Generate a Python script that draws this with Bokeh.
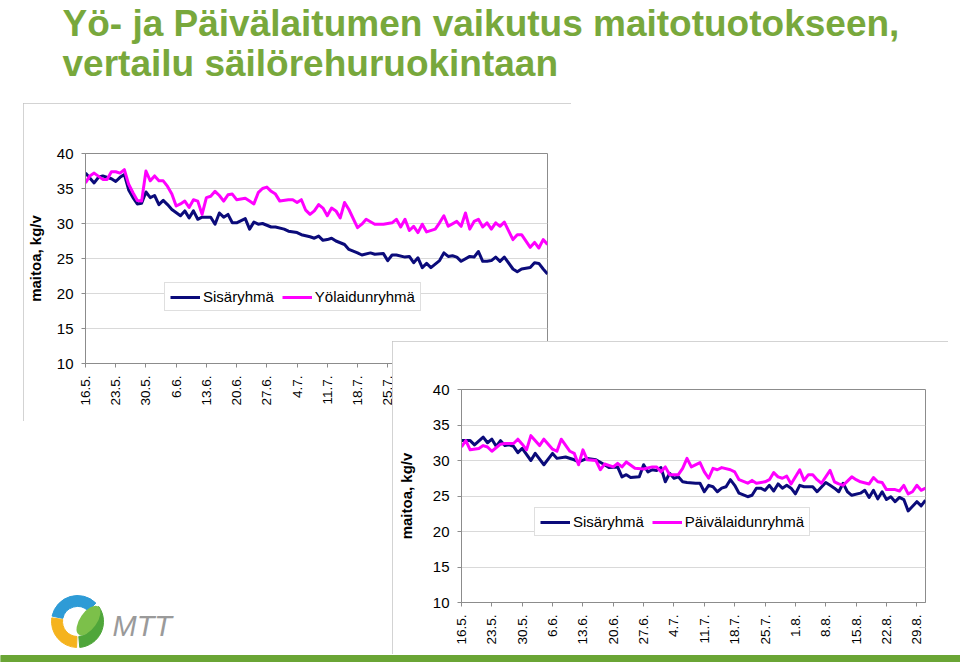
import math
from bokeh.plotting import figure
from bokeh.models import Range1d, FixedTicker, Legend, LegendItem
from bokeh.layouts import column
from bokeh.embed import file_html
from bokeh.resources import INLINE
from bokeh.core.properties import value

FONT = "Liberation Sans"

# ---------------- data ----------------
title_lines = ["Yö- ja Päivälaitumen vaikutus maitotuotokseen,",
               "vertailu säilörehuruokintaan"]
y_label = "maitoa, kg/v"
week_labels = ["16.5.", "23.5.", "30.5.", "6.6.", "13.6.", "20.6.", "27.6.", "4.7.",
               "11.7.", "18.7.", "25.7.", "1.8.", "8.8.", "15.8.", "22.8.", "29.8."]
y_ticks = [10, 15, 20, 25, 30, 35, 40]
series_names_top = ["Sisäryhmä", "Yölaidunryhmä"]
series_names_bottom = ["Sisäryhmä", "Päivälaidunryhmä"]
logo_text = "MTT"

# day index 0 = 16.5.
top_sisa_day = [0, 2, 3, 4, 6, 7, 8, 9, 10, 11, 12, 13, 14, 15, 16, 17, 18, 19, 20, 22,
                23, 24, 25, 26, 27, 29, 30, 31, 32, 33, 34, 35, 37, 38, 39, 40, 41, 43, 44, 46,
                47, 49, 50, 52, 53, 54, 55, 56, 57, 58, 60, 61, 63, 64, 66, 67, 69, 70, 71, 72,
                74, 75, 76, 77, 78, 79, 80, 81, 82, 83, 84, 85, 86, 87, 89, 90, 91, 92, 93, 94,
                95, 96, 97, 99, 100, 101, 103, 104, 105, 106, 107]
top_sisa = [37.2, 35.8, 36.6, 36.8, 36.4, 36.0, 36.6, 37.0, 34.8, 33.7,
            32.8, 32.9, 34.5, 33.7, 34.0, 32.7, 33.3, 32.7, 32.0, 31.1,
            31.8, 30.8, 31.8, 30.6, 30.9, 30.9, 29.9, 31.5, 30.9, 31.3,
            30.1, 30.1, 30.7, 29.2, 30.2, 29.9, 30.0, 29.5, 29.5, 29.2,
            28.9, 28.7, 28.4, 28.1, 27.9, 28.2, 27.6, 27.7, 27.9, 27.5,
            27.0, 26.3, 25.8, 25.5, 25.8, 25.6, 25.7, 24.7, 25.5, 25.5,
            25.2, 25.3, 24.4, 25.1, 23.7, 24.3, 23.7, 24.2, 24.7, 25.8,
            25.3, 25.4, 25.2, 24.6, 25.3, 25.2, 26.0, 24.6, 24.6, 24.7,
            25.2, 24.6, 25.2, 23.5, 23.1, 23.5, 23.7, 24.4, 24.3, 23.5,
            22.8]

top_yo_day = [0, 1, 2, 4, 5, 6, 7, 8, 9, 10, 11, 12, 13, 14, 15, 16, 17, 18, 19, 20,
              21, 22, 23, 24, 25, 26, 27, 28, 29, 30, 31, 32, 33, 34, 35, 37, 38, 39, 40, 41,
              42, 43, 44, 45, 47, 48, 49, 50, 51, 52, 53, 54, 55, 56, 57, 58, 59, 60, 61, 63,
              64, 65, 67, 69, 71, 72, 73, 74, 75, 76, 77, 78, 79, 81, 82, 83, 84, 86, 87, 88,
              89, 90, 91, 92, 93, 94, 95, 96, 97, 99, 100, 101, 103, 104, 105, 106, 107]
top_yo = [35.8, 36.8, 37.2, 36.3, 36.3, 37.4, 37.4, 37.2, 37.7, 35.6,
          34.4, 33.3, 33.2, 37.5, 36.1, 36.8, 36.1, 36.1, 35.3, 34.2,
          32.5, 32.8, 33.2, 32.3, 33.4, 33.2, 31.3, 33.7, 33.9, 34.6,
          34.0, 33.2, 34.1, 34.2, 33.4, 33.6, 33.2, 32.8, 34.4, 35.0,
          35.2, 34.6, 34.2, 33.2, 33.4, 33.4, 33.0, 33.4, 31.9, 31.3,
          31.8, 32.7, 32.2, 31.1, 32.2, 31.8, 30.8, 33.0, 32.0, 29.4,
          29.9, 30.6, 29.9, 29.9, 30.1, 30.6, 29.5, 30.6, 29.0, 29.6,
          28.7, 29.9, 28.8, 29.2, 30.1, 31.1, 29.6, 30.3, 29.6, 31.5,
          29.2, 30.3, 30.6, 29.5, 30.1, 29.2, 30.1, 29.6, 30.2, 27.7,
          28.4, 28.4, 26.6, 27.3, 26.5, 27.7, 27.0]

bot_sisa_day = [0, 2, 3, 5, 6, 7, 8, 9, 10, 11, 12, 13, 14, 16, 17, 19, 21, 22, 24, 26,
                27, 29, 31, 33, 34, 36, 37, 38, 39, 41, 42, 43, 44, 45, 46, 47, 48, 49, 50, 51,
                52, 54, 55, 56, 57, 58, 59, 60, 61, 62, 63, 64, 66, 67, 68, 69, 70, 71, 72, 73,
                74, 75, 76, 77, 78, 79, 81, 82, 84, 85, 86, 87, 88, 89, 90, 92, 93, 94, 95, 96,
                97, 98, 99, 100, 101, 102, 103, 105, 106, 107]
bot_sisa = [32.8, 32.8, 32.2, 33.3, 32.5, 33.0, 32.0, 32.8, 32.1, 32.2,
            32.0, 31.1, 31.7, 30.0, 31.0, 29.4, 31.0, 30.3, 30.5, 30.1,
            29.8, 30.3, 30.1, 29.4, 29.0, 29.1, 27.7, 28.0, 27.6, 27.7,
            29.4, 28.4, 28.7, 28.6, 29.0, 27.0, 28.2, 27.5, 27.7, 27.0,
            26.9, 26.8, 26.8, 25.6, 26.5, 26.3, 25.6, 26.1, 26.3, 27.3,
            26.5, 25.4, 24.9, 25.1, 26.1, 26.1, 25.8, 26.5, 25.7, 26.7,
            26.1, 26.5, 26.1, 25.3, 26.5, 26.3, 26.3, 25.6, 26.9, 26.5,
            26.1, 25.6, 26.8, 25.6, 25.1, 25.4, 25.8, 24.8, 25.8, 24.6,
            25.6, 24.5, 24.9, 24.2, 24.8, 24.5, 22.9, 24.2, 23.6, 24.4]

bot_paiva_day = [0, 1, 2, 4, 5, 6, 7, 9, 10, 12, 13, 14, 15, 16, 18, 19, 21, 22, 23, 25,
                 26, 27, 28, 29, 31, 32, 33, 35, 36, 37, 38, 40, 42, 44, 45, 46, 47, 48, 50, 51,
                 52, 53, 55, 56, 57, 58, 59, 60, 62, 63, 64, 66, 67, 68, 70, 71, 72, 73, 74, 75,
                 76, 78, 79, 80, 81, 82, 83, 85, 86, 87, 88, 90, 91, 92, 94, 95, 96, 97, 98, 100,
                 101, 102, 103, 104, 105, 106, 107]
bot_paiva = [31.9, 32.8, 31.5, 31.7, 32.1, 31.9, 31.3, 32.3, 32.4, 32.4,
             33.0, 32.3, 31.5, 33.5, 32.1, 33.0, 31.6, 31.3, 33.0, 31.3,
             31.0, 29.4, 31.5, 30.1, 30.0, 28.7, 29.5, 29.1, 29.6, 29.1,
             29.8, 28.9, 28.8, 29.1, 29.1, 28.4, 29.1, 28.0, 28.0, 28.9,
             30.3, 29.1, 29.7, 28.4, 27.5, 28.9, 28.7, 29.0, 28.7, 28.4,
             27.3, 26.8, 27.2, 26.8, 27.0, 27.3, 28.3, 27.7, 27.5, 27.8,
             26.7, 28.7, 27.2, 28.0, 28.0, 27.3, 26.8, 28.6, 27.0, 26.7,
             26.5, 27.7, 27.3, 27.0, 26.7, 27.6, 27.0, 26.9, 25.9, 25.9,
             25.7, 26.5, 25.3, 25.6, 26.5, 25.8, 26.1]

NAVY = "#0b0b7a"
MAGENTA = "#ff00ff"
GREEN = "#78a83c"


def chart(w, h, bl, br, bt, bb, d1, v1, d2, v2, names, leg_loc, ylab_standoff, margin):
    p = figure(width=w, height=h, x_range=Range1d(0, 107), y_range=Range1d(10, 40),
               output_backend="svg", toolbar_location=None,
               min_border_left=bl, min_border_right=br, min_border_top=bt, min_border_bottom=bb,
               margin=margin, frame_align=False,
               styles={"outline": "1px solid #c4c4c4", "outline-offset": "-1px"})
    p.background_fill_color = "white"
    p.border_fill_color = "white"
    p.outline_line_color = "#8c8c8c"
    p.xgrid.visible = False
    p.ygrid.grid_line_color = "#d9d9d9"
    p.ygrid.ticker = FixedTicker(ticks=y_ticks)

    r1 = p.line(d1, v1, line_color=NAVY, line_width=3, line_join="round")
    r2 = p.line(d2, v2, line_color=MAGENTA, line_width=3, line_join="round")

    xa = p.xaxis[0]
    xa.ticker = FixedTicker(ticks=[7 * i for i in range(len(week_labels))])
    xa.major_label_overrides = {7 * i: lab for i, lab in enumerate(week_labels)}
    xa.major_label_orientation = math.pi / 2
    xa.major_label_text_font = FONT
    xa.major_label_text_font_size = "13.5px"
    xa.major_label_text_color = "black"
    xa.major_label_standoff = 8
    xa.axis_line_color = "#8c8c8c"
    xa.major_tick_line_color = "#8c8c8c"
    xa.major_tick_out = 4
    xa.major_tick_in = 0
    xa.minor_tick_line_color = None

    ya = p.yaxis[0]
    ya.ticker = FixedTicker(ticks=y_ticks)
    ya.major_label_text_font = FONT
    ya.major_label_text_font_size = "15px"
    ya.major_label_text_color = "black"
    ya.major_label_standoff = 8
    ya.axis_line_color = "#8c8c8c"
    ya.major_tick_line_color = "#8c8c8c"
    ya.major_tick_out = 4
    ya.major_tick_in = 0
    ya.minor_tick_line_color = None
    ya.axis_label = y_label
    ya.axis_label_text_font = FONT
    ya.axis_label_text_font_size = "15px"
    ya.axis_label_text_font_style = "bold"
    ya.axis_label_text_color = "black"
    ya.axis_label_standoff = ylab_standoff

    legend = Legend(items=[LegendItem(label=names[0], renderers=[r1]),
                           LegendItem(label=names[1], renderers=[r2])],
                    location=leg_loc, orientation="horizontal",
                    padding=5, spacing=8, margin=0, glyph_width=30, glyph_height=16,
                    label_standoff=3, label_height=16,
                    label_text_font=FONT, label_text_font_size="15px",
                    label_text_color="black",
                    border_line_color="#c0c0c0", background_fill_color="white",
                    background_fill_alpha=1.0)
    p.add_layout(legend)
    return p


# ---------------- slide background (pixel space, y downwards) ----------------
bg = figure(width=960, height=662, x_range=Range1d(0, 960), y_range=Range1d(662, 0),
            output_backend="svg", toolbar_location=None, min_border=0,
            min_border_left=0, min_border_right=0, min_border_top=0, min_border_bottom=0,
            x_axis_location=None, y_axis_location=None, frame_align=False)
bg.outline_line_color = None
bg.background_fill_color = "white"
bg.border_fill_color = "white"
bg.xgrid.visible = False
bg.ygrid.visible = False

bg.text(x=[62, 62], y=[23, 63], text=title_lines, text_font=value(FONT),
        text_font_style="bold", text_font_size="37px", text_color=GREEN,
        text_baseline="alphabetic", text_align="left")

# MTT logo
bg.annular_wedge(x=77, y=621, inner_radius=15, outer_radius=26,
                 inner_radius_units="screen", outer_radius_units="screen",
                 start_angle=math.radians(45), end_angle=math.radians(168),
                 color="#2e9bd6")
bg.annular_wedge(x=77, y=621, inner_radius=15, outer_radius=26,
                 inner_radius_units="screen", outer_radius_units="screen",
                 start_angle=math.radians(172), end_angle=math.radians(268),
                 color="#f5b31e")
bg.annular_wedge(x=77, y=621, inner_radius=15, outer_radius=26,
                 inner_radius_units="screen", outer_radius_units="screen",
                 start_angle=math.radians(-85), end_angle=math.radians(35),
                 color="#4fa63a")
bg.ellipse(x=[88], y=[620], width=34, height=17, angle=math.radians(55),
           fill_color="#7cc04a", line_color=None)
bg.text(x=[112], y=[625], text=[logo_text], text_font=value(FONT),
        text_font_size="29px", text_color="#9a9a9a", text_font_style="italic",
        text_baseline="alphabetic")

# bottom green bar
bg.quad(left=[0], right=[960], top=[655], bottom=[662], color="#6aa535")

# ---------------- charts ----------------
top = chart(548, 318, 56, 24, 50, 58, top_sisa_day, top_sisa, top_yo_day, top_yo,
            series_names_top, (79, 52), 10, (-559, 0, 0, 23))
bot = chart(556, 313, 69, 23, 48, 52, bot_sisa_day, bot_sisa, bot_paiva_day, bot_paiva,
            series_names_bottom, (73, 66), 15, (-80, 0, 0, 392))

layout = column(bg, top, bot, spacing=0)
open("out.html", "w").write(file_html(layout, INLINE))
